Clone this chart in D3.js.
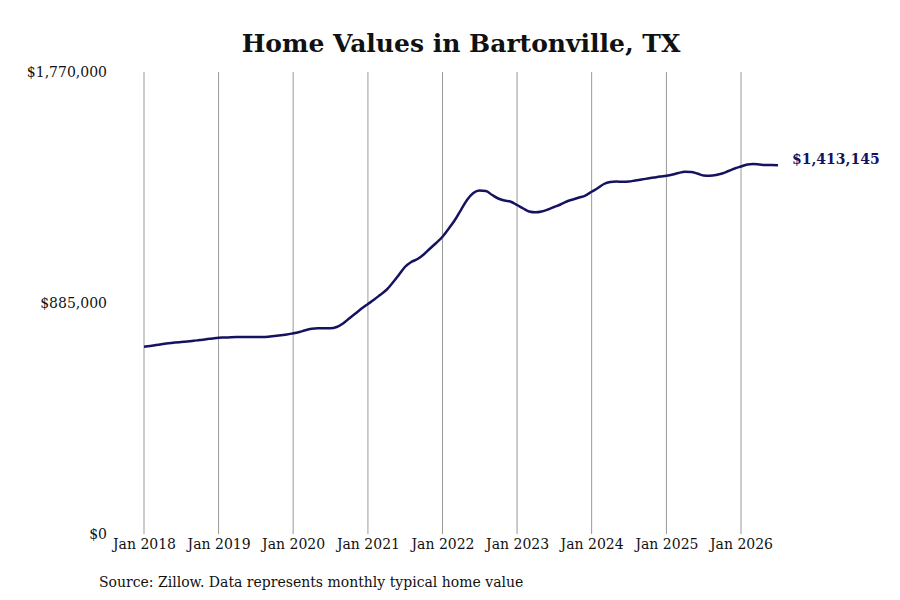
<!DOCTYPE html>
<html lang="en">
<head>
<meta charset="UTF-8">
<title>Home Values in Bartonville, TX</title>
<script src="https://d3js.org/d3.v7.min.js"></script>
<style>
    body { margin: 0; background: #fff; }
    svg text { font-family: "DejaVu Serif", serif; fill: #111; }
</style>
</head>
<body>
<div id="chart"></div>
<script>
    // Monthly typical home value, Jan 2018 .. Jul 2026 (values in dollars)
    const startMonth = "2018-01";
    const homeValues = [
        717600, 720600, 724100, 727500, 730600, 733300, 735600, 737900, 740100, 743200, 745900, 749000,
        752000, 752800, 753600, 754300, 754700, 754700, 754700, 754300, 755500, 758500, 761600, 764300,
        768900, 773900, 780800, 786100, 788000, 788000, 788000, 793000, 806400, 825600, 844700, 863900,
        881100, 898400, 915600, 934800, 961600, 992200, 1022900, 1042000, 1053500, 1070800, 1093800, 1114800,
        1139000, 1170400, 1201000, 1241200, 1279600, 1306400, 1315900, 1314000, 1298700, 1285300, 1277600, 1273000,
        1260400, 1247000, 1235500, 1232400, 1235500, 1243200, 1252700, 1262300, 1273800, 1281500, 1289100, 1296800,
        1311400, 1325500, 1340900, 1348500, 1350400, 1349300, 1350400, 1354300, 1358100, 1361900, 1365800, 1369600,
        1372600, 1377300, 1383000, 1387600, 1386800, 1381100, 1373400, 1372600, 1375300, 1381100, 1390700, 1400200,
        1407900, 1415600, 1417500, 1415600, 1413600, 1413600, 1413145
    ];
    const yTicks = [0, 885000, 1770000];
    const xTickYears = [2018, 2019, 2020, 2021, 2022, 2023, 2024, 2025, 2026];
    const titleText = "Home Values in Bartonville, TX";
    const sourceText = "Source: Zillow. Data represents monthly typical home value";

    const width = 900, height = 600;
    const margin = { top: 72, right: 159, bottom: 66, left: 144 };

    const parseMonth = d3.timeParse("%Y-%m");
    const t0 = parseMonth(startMonth);
    const data = homeValues.map((v, i) => ({ date: d3.timeMonth.offset(t0, i), value: v }));

    const svg = d3.select("#chart").append("svg")
        .attr("width", width)
        .attr("height", height);

    const x = d3.scaleTime()
        .domain([new Date(2018, 0, 1), new Date(2026, 0, 1)])
        .range([margin.left, 741]);

    const y = d3.scaleLinear()
        .domain([0, 1770000])
        .range([height - margin.bottom, margin.top]);

    // Title
    svg.append("text")
        .attr("x", 461)
        .attr("y", 52)
        .attr("text-anchor", "middle")
        .style("font-size", "25px")
        .style("font-weight", "bold")
        .text(titleText);

    // Vertical gridlines at each January
    const yearDates = xTickYears.map(yr => new Date(yr, 0, 1));
    svg.append("g")
        .selectAll("line")
        .data(yearDates)
        .join("line")
        .attr("x1", d => x(d))
        .attr("x2", d => x(d))
        .attr("y1", y(1770000))
        .attr("y2", y(0))
        .attr("stroke", "#999")
        .attr("stroke-width", 1);

    // X tick labels
    const xAxis = svg.append("g")
        .attr("transform", `translate(0,${y(0)})`)
        .call(d3.axisBottom(x)
            .tickValues(yearDates)
            .tickFormat(d3.timeFormat("Jan %Y"))
            .tickSize(0)
            .tickPadding(5));
    xAxis.select(".domain").remove();
    xAxis.selectAll("text")
        .style("font-family", "DejaVu Serif, serif")
        .style("font-size", "14px")
        .attr("fill", "#111");

    // Y tick labels
    const yAxis = svg.append("g")
        .attr("transform", `translate(107,0)`)
        .call(d3.axisLeft(y)
            .tickValues(yTicks)
            .tickFormat(d => "$" + d3.format(",")(d))
            .tickSize(0)
            .tickPadding(0));
    yAxis.select(".domain").remove();
    yAxis.selectAll("text")
        .style("font-family", "DejaVu Serif, serif")
        .style("font-size", "14px")
        .attr("fill", "#111");

    // Value line
    const line = d3.line()
        .x(d => x(d.date))
        .y(d => y(d.value))
        .curve(d3.curveMonotoneX);

    svg.append("path")
        .datum(data)
        .attr("fill", "none")
        .attr("stroke", "#15135f")
        .attr("stroke-width", 2.5)
        .attr("d", line);

    // End label
    const last = data[data.length - 1];
    svg.append("text")
        .attr("x", x(last.date) + 14)
        .attr("y", y(last.value) - 5)
        .attr("dominant-baseline", "middle")
        .style("font-size", "14px")
        .style("font-weight", "bold")
        .style("fill", "#15135f")
        .text("$" + d3.format(",")(last.value));

    // Source note
    svg.append("text")
        .attr("x", 99)
        .attr("y", 587)
        .style("font-size", "14px")
        .text(sourceText);
</script>
</body>
</html>
